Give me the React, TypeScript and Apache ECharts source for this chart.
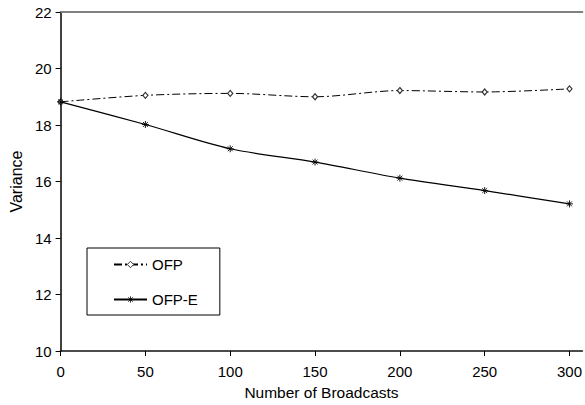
import React, { useEffect, useRef } from "react";
import * as echarts from "echarts";

const broadcasts = [0, 50, 100, 150, 200, 250, 300];
const ofp = [18.82, 19.05, 19.12, 19.0, 19.22, 19.17, 19.28];
const ofpE = [18.82, 18.02, 17.16, 16.69, 16.12, 15.68, 15.21];
const xTicks = [0, 50, 100, 150, 200, 250, 300];

const FONT = "'Liberation Sans', Arial, sans-serif";
const ASTERISK = "path://M0 5L10 5M5 0L5 10M1.5 1.5L8.5 8.5M8.5 1.5L1.5 8.5";

export default function App() {
  const ref = useRef<HTMLDivElement>(null);

  useEffect(() => {
    if (!ref.current) return;
    const chart = echarts.init(ref.current, undefined, { renderer: "svg" });
    chart.setOption({
      animation: false,
      backgroundColor: "#fff",
      textStyle: { fontFamily: FONT },
      grid: { left: 60, top: 12, right: 0, bottom: 53 },
      legend: {
        orient: "vertical",
        left: 87,
        top: 248,
        padding: [9, 22, 8, 26],
        itemWidth: 33,
        itemHeight: 8,
        itemGap: 20,
        borderColor: "#000",
        borderWidth: 1,
        textStyle: { fontSize: 15, color: "#000", fontFamily: FONT },
        data: [
          { name: "OFP", itemStyle: { borderWidth: 1 } },
          { name: "OFP-E", itemStyle: { borderWidth: 0.8 } },
        ],
      },
      xAxis: [
        {
          type: "value",
          min: 0,
          max: 307.6,
          name: "Number of Broadcasts",
          nameLocation: "middle",
          nameGap: 32,
          nameTextStyle: { fontSize: 15.5, color: "#000", fontFamily: FONT },
          splitLine: { show: false },
          axisLine: { lineStyle: { color: "#111", width: 1.6 } },
          axisTick: { customValues: xTicks, length: 5, lineStyle: { color: "#000" } },
          axisLabel: {
            customValues: xTicks,
            fontSize: 15,
            color: "#000",
            margin: 13,
            fontFamily: FONT,
          },
        },
        {
          type: "value",
          position: "top",
          min: 0,
          max: 307.6,
          splitLine: { show: false },
          axisTick: { show: false },
          axisLabel: { show: false },
          axisLine: { show: true, lineStyle: { color: "#808080", width: 2 } },
        },
      ],
      yAxis: {
        type: "value",
        min: 10,
        max: 22,
        interval: 2,
        name: "Variance",
        nameLocation: "middle",
        nameGap: 34,
        nameTextStyle: { fontSize: 16, color: "#000", fontFamily: FONT },
        splitLine: { show: false },
        axisLine: { show: true, lineStyle: { color: "#000", width: 1.5 } },
        axisTick: { show: true, length: 5, lineStyle: { color: "#000" } },
        axisLabel: { fontSize: 15, color: "#000", margin: 9, fontFamily: FONT },
      },
      series: [
        {
          name: "OFP",
          type: "line",
          smooth: 0.3,
          data: broadcasts.map((x, i) => [x, ofp[i]]),
          symbol: "diamond",
          symbolSize: [5, 6],
          lineStyle: { color: "#000", width: 1, type: [8, 3, 2, 3] },
          itemStyle: { color: "#fff", borderColor: "#333", borderWidth: 1.2 },
          z: 2,
        },
        {
          name: "OFP-E",
          type: "line",
          smooth: 0.3,
          data: broadcasts.map((x, i) => [x, ofpE[i]]),
          symbol: ASTERISK,
          symbolSize: 7,
          lineStyle: { color: "#000", width: 1.2 },
          itemStyle: { color: "#000", borderColor: "#000", borderWidth: 0.9 },
          z: 3,
        },
      ],
    });
    return () => chart.dispose();
  }, []);

  return (
    <div
      ref={ref}
      style={{ position: "fixed", left: 0, top: 0, width: 585, height: 405 }}
    />
  );
}
